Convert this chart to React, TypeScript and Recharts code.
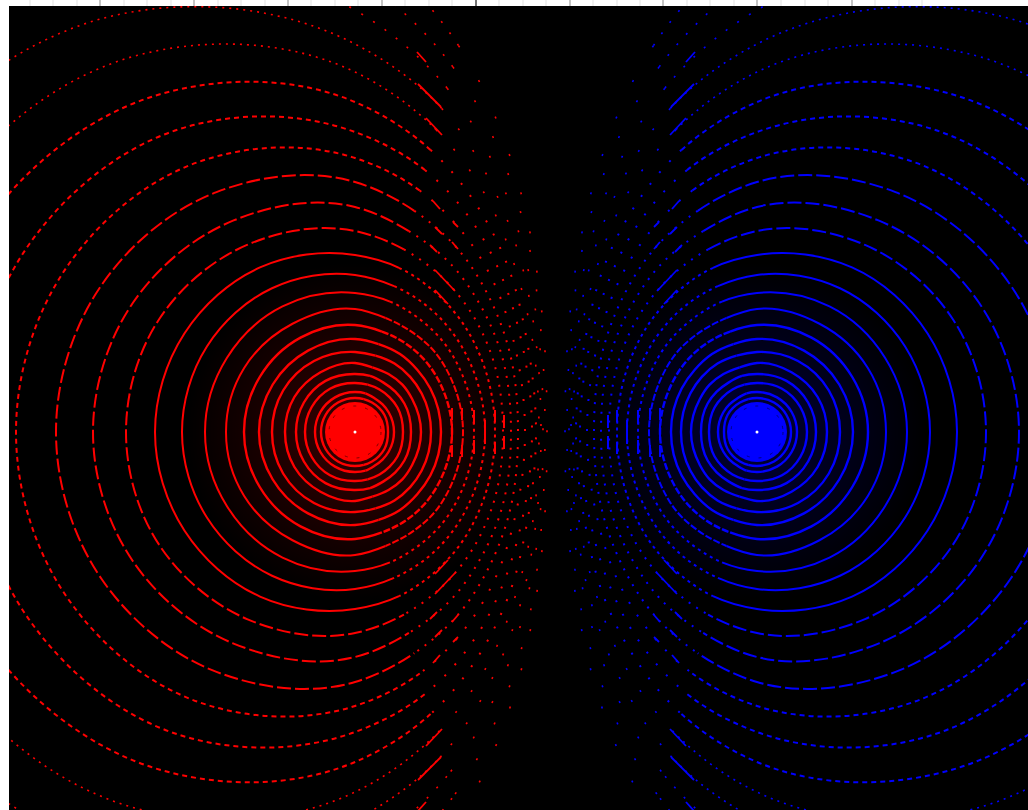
import { LineChart, Line, XAxis, YAxis, CartesianGrid, ReferenceDot } from 'recharts'

// field map of a +/- charge pair, x and y are distances from the midpoint between the charges
const CHARGE_X = 201
const X_DOMAIN = [-547, 472]
const Y_DOMAIN = [-378, 426]

// ruler ticks along the top edge
const MAJOR_TICKS = [-456, -362, -268, -174, -80, 14, 107, 201, 296]
const MINOR_TICKS = [
  -526, -503, -479, -432, -409, -385, -338, -315, -291, -245, -221, -198, -151, -127, -104,
  -57, -33, -10, 37, 61, 84, 131, 154, 178, 225, 249, 272, 319, 343, 366,
]
const DARK_TICK = -80

const radius180 = [790, 690, 610, 545, 487, 434, 384, 339, 299, 262, 229, 200, 173, 150, 129, 111, 96, 83, 70, 59, 50, 40, 34]
const radius150 = [760, 670, 595, 532, 474, 424, 376, 332, 293, 257, 226, 197, 171, 148, 128, 110, 95, 83, 70, 59, 50, 40, 34]
const radius120 = [650, 590, 530, 481, 435, 390, 350, 312, 277, 244, 216, 190, 166, 145, 125, 109, 94, 82, 69, 59, 50, 40, 34]
const radius90 = [495, 457, 422, 388, 360, 330, 300, 274, 250, 225, 201, 177, 157, 139, 123, 107, 93, 80, 69, 58, 49, 40, 34]
const radius75 = [400, 378, 356, 335, 313, 292, 271, 250, 229, 208, 189, 170, 151, 135, 118, 104, 91, 79, 67, 58, 49, 40, 34]
const radius60 = [313, 303, 291, 279, 267, 253, 239, 224, 209, 193, 177, 161, 145, 130, 115, 102, 90, 79, 67, 57, 49, 39, 34]
const radius45 = [253, 249, 242, 236, 228, 221, 211, 201, 190, 178, 166, 153, 139, 126, 113, 100, 88, 78, 67, 57, 49, 39, 34]
const radius30 = [217, 214, 211, 207, 203, 197, 191, 183, 176, 167, 157, 146, 134, 122, 110, 98, 87, 77, 66, 57, 49, 39, 34]
const radius0 = [192, 190, 188, 186, 184, 181, 177, 170, 163, 156, 148, 140, 130, 119, 108, 97, 86, 76, 66, 56, 48, 39, 33]

// vertical bars where the rings cross the axis between the charges
const barOffset = [104, 104, 104, 94, 94, 82, 82, 71, 61, 61, 52, 52]
const barTop = [8, 24, -13, 24, -13, 22, -8, 12, 22, -10, 17, -4]
const barBottom = [-8, 12, -25, 12, -25, 8, -22, -12, 10, -22, 4, -17]

// solid diagonal runs in the dotted field, one quadrant, the others mirror it
const streakOffsetA = [138, 130, 139, 123, 121, 126, 104, 103, 121, 121]
const streakHeightA = [348, 314, 380, 231, 205, 187, 190, 210, 162, 142]
const streakOffsetB = [115, 114, 130, 116, 114, 119, 98, 98, 101, 108]
const streakHeightB = [325, 297, 370, 223, 198, 180, 183, 205, 141, 128]

const RADII: Record<number, number[]> = {
  0: radius0, 30: radius30, 45: radius45, 60: radius60, 75: radius75, 90: radius90, 120: radius120, 150: radius150, 180: radius180,
}
// each arc carries one anchor past its ends so both halves of a ring meet smoothly
const OUTER_ARC = [60, 75, 90, 120, 150, 180, -150, -120, -90, -75, -60]
const INNER_ARC = [90, 75, 60, 45, 30, 0, -30, -45, -60, -75, -90]

function arcPoints(ring: number, arc: number[], sign: number) {
  return arc.map((b) => {
    const r = RADII[Math.abs(b)][ring]
    const a = (b * Math.PI) / 180
    return { x: sign * (CHARGE_X - r * Math.cos(a)), y: r * Math.sin(a) }
  })
}

// smooth curve through the anchors, first and last anchor only steer the tangent
function arcCurve(context: any) {
  let pts: number[][] = []
  return {
    areaStart() {},
    areaEnd() {},
    lineStart() {
      pts = []
    },
    point(x: number, y: number) {
      pts.push([x, y])
    },
    lineEnd() {
      const dist = (a: number[], b: number[]) => Math.hypot(b[0] - a[0], b[1] - a[1]) || 1
      const tangent = (i: number) => {
        const d0 = dist(pts[i - 1], pts[i])
        const d1 = dist(pts[i], pts[i + 1])
        const w = d0 + d1
        const dx = ((pts[i][0] - pts[i - 1][0]) / d0) * (d1 / w) + ((pts[i + 1][0] - pts[i][0]) / d1) * (d0 / w)
        const dy = ((pts[i][1] - pts[i - 1][1]) / d0) * (d1 / w) + ((pts[i + 1][1] - pts[i][1]) / d1) * (d0 / w)
        const len = Math.hypot(dx, dy) || 1
        return [dx / len, dy / len]
      }
      context.moveTo(pts[1][0], pts[1][1])
      for (let i = 1; i < pts.length - 2; i++) {
        const d = dist(pts[i], pts[i + 1]) / 3
        const t0 = tangent(i)
        const t1 = tangent(i + 1)
        context.bezierCurveTo(
          pts[i][0] + t0[0] * d,
          pts[i][1] + t0[1] * d,
          pts[i + 1][0] - t1[0] * d,
          pts[i + 1][1] - t1[1] * d,
          pts[i + 1][0],
          pts[i + 1][1],
        )
      }
    },
  }
}

// the rings break up into dots where they run diagonally and far from the charge
function outerDash(ring: number) {
  if (ring < 3) return '2 12'
  if (ring < 5) return '2 5'
  if (ring < 8) return '5 4'
  if (ring < 11) return '14 4'
  return undefined
}
function innerDash(ring: number) {
  if (ring < 3) return '2 38'
  if (ring < 5) return '2 24'
  if (ring < 8) return '2 13'
  if (ring < 11) return '2 7'
  if (ring < 14) return '3 4'
  if (ring < 16) return '7 2'
  return undefined
}
function ringWidth(ring: number) {
  if (ring < 5) return 1.6
  return ring < 15 ? 2 : 2.4
}

function RulerTick({ x, payload }: any) {
  const major = MAJOR_TICKS.includes(payload.value)
  const stroke = payload.value === DARK_TICK ? '#444' : major ? '#b0b0b0' : '#ececec'
  return <line x1={x} x2={x} y1={0} y2={6} stroke={stroke} strokeWidth={1.5} />
}

export default function App() {
  const ticks = [...MAJOR_TICKS, ...MINOR_TICKS].sort((a, b) => a - b)
  const rings = radius0.map((_, i) => i)
  const sides = [
    { sign: -1, color: '#ff0000', name: 'plus' },
    { sign: 1, color: '#0000ff', name: 'minus' },
  ]
  const flips = [1, -1]
  return (
    <div style={{ width: 1028, height: 810 }}>
      <style>{'body{margin:0}'}</style>
      <LineChart width={1028} height={810} margin={{ top: 0, right: 0, bottom: 0, left: 9 }}>
        <defs>
          <radialGradient id="plusGlow">
            <stop offset="0%" stopColor="#ff0000" stopOpacity={0.22} />
            <stop offset="100%" stopColor="#ff0000" stopOpacity={0} />
          </radialGradient>
          <radialGradient id="minusGlow">
            <stop offset="0%" stopColor="#0000ff" stopOpacity={0.22} />
            <stop offset="100%" stopColor="#0000ff" stopOpacity={0} />
          </radialGradient>
        </defs>
        <CartesianGrid fill="#000000" horizontal={false} vertical={false} />
        <XAxis
          type="number"
          dataKey="x"
          orientation="top"
          height={6}
          domain={X_DOMAIN}
          allowDataOverflow
          ticks={ticks}
          interval={0}
          axisLine={false}
          tickLine={false}
          tick={<RulerTick />}
        />
        <YAxis type="number" dataKey="y" domain={Y_DOMAIN} allowDataOverflow hide />
        {sides.map((s) =>
          rings.map((i) => (
            <Line
              key={`${s.name}-outer-${i}`}
              data={arcPoints(i, OUTER_ARC, s.sign)}
              dataKey="y"
              type={arcCurve as any}
              stroke={s.color}
              strokeWidth={ringWidth(i)}
              strokeDasharray={outerDash(i)}
              dot={false}
              isAnimationActive={false}
            />
          )),
        )}
        {sides.map((s) =>
          rings.map((i) => (
            <Line
              key={`${s.name}-inner-${i}`}
              data={arcPoints(i, INNER_ARC, s.sign)}
              dataKey="y"
              type={arcCurve as any}
              stroke={s.color}
              strokeWidth={ringWidth(i)}
              strokeDasharray={innerDash(i)}
              dot={false}
              isAnimationActive={false}
            />
          )),
        )}
        {sides.map((s) =>
          barOffset.map((d, i) => (
            <Line
              key={`${s.name}-bar-${i}`}
              data={[
                { x: s.sign * d, y: barTop[i] },
                { x: s.sign * d, y: barBottom[i] },
              ]}
              dataKey="y"
              stroke={s.color}
              strokeWidth={2}
              dot={false}
              isAnimationActive={false}
            />
          )),
        )}
        {sides.map((s) =>
          flips.map((f) =>
            streakOffsetA.map((d, i) => (
              <Line
                key={`${s.name}-streak-${f}-${i}`}
                data={[
                  { x: s.sign * d, y: f * streakHeightA[i] },
                  { x: s.sign * streakOffsetB[i], y: f * streakHeightB[i] },
                ]}
                dataKey="y"
                stroke={s.color}
                strokeWidth={1.8}
                dot={false}
                isAnimationActive={false}
              />
            )),
          ),
        )}
        <ReferenceDot x={-CHARGE_X} y={0} r={170} fill="url(#plusGlow)" stroke="none" />
        <ReferenceDot x={CHARGE_X} y={0} r={170} fill="url(#minusGlow)" stroke="none" />
        <ReferenceDot x={-CHARGE_X} y={0} r={30} fill="#ff0000" stroke="none" />
        <ReferenceDot x={CHARGE_X} y={0} r={30} fill="#0000ff" stroke="none" />
        <ReferenceDot x={-CHARGE_X} y={0} r={26} fill="none" stroke="#800000" strokeDasharray="3 9" />
        <ReferenceDot x={CHARGE_X} y={0} r={26} fill="none" stroke="#000080" strokeDasharray="3 9" />
        <ReferenceDot x={-CHARGE_X} y={0} r={1.5} fill="#ffffff" stroke="none" />
        <ReferenceDot x={CHARGE_X} y={0} r={1.5} fill="#ffffff" stroke="none" />
      </LineChart>
    </div>
  )
}
